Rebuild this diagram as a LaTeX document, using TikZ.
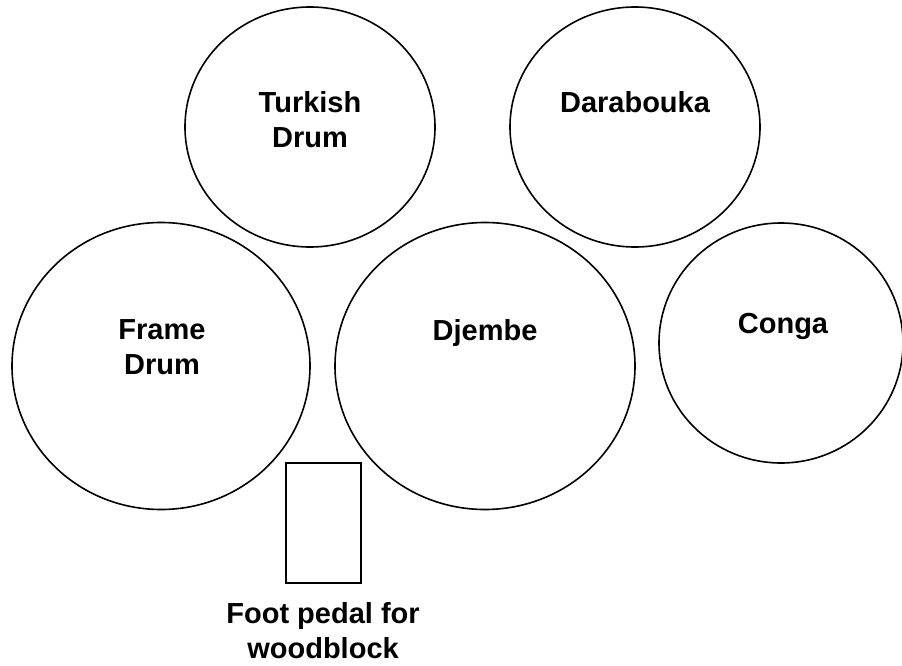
\documentclass[tikz,border=0pt]{standalone}
\usepackage{fontspec}
\setmainfont{Liberation Sans}
\usetikzlibrary{shapes.geometric,positioning}
\tikzstyle{drum}  = [ellipse, draw, line width=1.6pt, inner sep=0pt]
\tikzstyle{pedal} = [rectangle, draw, line width=1.6pt, inner sep=0pt,
                     minimum width=75pt, minimum height=120pt]
\tikzstyle{lbl}   = [align=center, inner sep=0pt,
                     font=\fontsize{29}{35}\selectfont\bfseries]

\begin{document}
\begin{tikzpicture}[x=1pt, y=-1pt]
	\useasboundingbox (0,0) rectangle (902,666);
	% upper row
	\node[drum, minimum width=250pt, minimum height=240pt] (turkish) at (310,127) {};
	\node[drum, minimum width=250pt, minimum height=240pt] (darabouka) at (635,127) {};
	% lower row
	\node[drum, minimum width=298pt, minimum height=287pt] (frame) at (161,366) {};
	\node[drum, minimum width=300pt, minimum height=287pt] (djembe) at (485,366) {};
	\node[drum, minimum width=244pt, minimum height=240pt] (conga) at (781,343) {};
	\node[pedal] (pedal) at (323.5,523) {};

	\node[lbl] (turkishlbl) at (310,120) {Turkish\\Drum};
	\node[lbl] (darabloukalbl) at (635,102) {Darabouka};
	\node[lbl] (framelbl) at (162,347) {Frame\\Drum};
	\node[lbl] (djembelbl) at (485,333) {Djembe};
	\node[lbl] (congalbl) at (783,326) {Conga};
	\node[lbl] (pedallbl) at (323,631) {Foot pedal for\\woodblock};
\end{tikzpicture}
\end{document}
